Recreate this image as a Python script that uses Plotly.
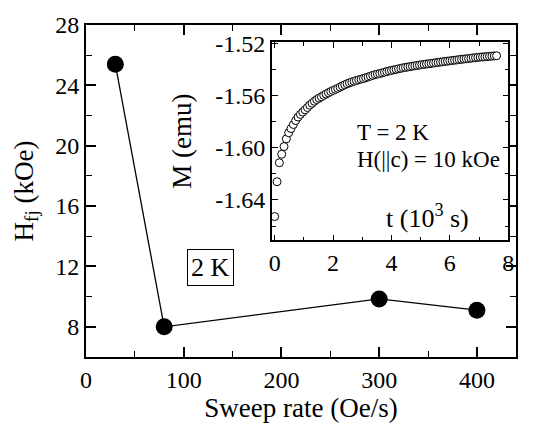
import plotly.graph_objects as go

# Main panel: field vs sweep rate
sweep_rate = [30, 80, 300, 400]          # Oe/s
h_fj = [25.4, 8.0, 9.85, 9.1]            # kOe

# Inset: magnetization relaxation at T = 2 K, H || c = 10 kOe
t_ks = [0.00, 0.08, 0.16, 0.24, 0.32, 0.40, 0.48, 0.56, 0.64, 0.72,
        0.80, 0.88, 0.96, 1.04, 1.12, 1.20, 1.28, 1.36, 1.44, 1.52,
        1.60, 1.68, 1.76, 1.84, 1.92, 2.00, 2.08, 2.16, 2.24, 2.32,
        2.40, 2.48, 2.56, 2.64, 2.72, 2.80, 2.88, 2.96, 3.04, 3.12,
        3.20, 3.28, 3.36, 3.44, 3.52, 3.60, 3.68, 3.76, 3.84, 3.92,
        4.00, 4.08, 4.16, 4.24, 4.32, 4.40, 4.48, 4.56, 4.64, 4.72,
        4.80, 4.88, 4.96, 5.04, 5.12, 5.20, 5.28, 5.36, 5.44, 5.52,
        5.60, 5.68, 5.76, 5.84, 5.92, 6.00, 6.08, 6.16, 6.24, 6.32,
        6.40, 6.48, 6.56, 6.64, 6.72, 6.80, 6.88, 6.96, 7.04, 7.12,
        7.20, 7.28, 7.36, 7.44, 7.52, 7.60]
m_emu = [-1.6527, -1.6260, -1.6115, -1.6050, -1.5991, -1.5932, -1.5885, -1.5853, -1.5822, -1.5792,
         -1.5765, -1.5745, -1.5727, -1.5710, -1.5692, -1.5674, -1.5659, -1.5644, -1.5631, -1.5620,
         -1.5610, -1.5599, -1.5589, -1.5579, -1.5570, -1.5561, -1.5553, -1.5545, -1.5536, -1.5527,
         -1.5518, -1.5510, -1.5503, -1.5497, -1.5491, -1.5485, -1.5480, -1.5475, -1.5470, -1.5464,
         -1.5458, -1.5452, -1.5446, -1.5440, -1.5436, -1.5432, -1.5427, -1.5422, -1.5417, -1.5412,
         -1.5408, -1.5404, -1.5400, -1.5396, -1.5392, -1.5388, -1.5385, -1.5382, -1.5379, -1.5376,
         -1.5373, -1.5370, -1.5367, -1.5364, -1.5362, -1.5359, -1.5357, -1.5354, -1.5352, -1.5349,
         -1.5347, -1.5344, -1.5342, -1.5339, -1.5337, -1.5335, -1.5332, -1.5330, -1.5328, -1.5325,
         -1.5323, -1.5321, -1.5319, -1.5317, -1.5315, -1.5312, -1.5310, -1.5308, -1.5306, -1.5305,
         -1.5304, -1.5302, -1.5300, -1.5299, -1.5297, -1.5296]

inset_yticks = [-1.52, -1.56, -1.60, -1.64]
inset_yticktext = ["-1.52", "-1.56", "-1.60", "-1.64"]

FONT = "Liberation Serif"

fig = go.Figure()

fig.add_trace(go.Scatter(
    x=sweep_rate, y=h_fj, mode="lines+markers",
    line=dict(color="black", width=1.3),
    marker=dict(color="black", size=17),
    xaxis="x", yaxis="y", showlegend=False,
))

fig.add_trace(go.Scatter(
    x=t_ks, y=m_emu, mode="markers",
    marker=dict(symbol="circle", color="white", size=8,
                line=dict(color="black", width=1)),
    xaxis="x2", yaxis="y2", showlegend=False,
))

main_axis = dict(
    showline=True, linecolor="black", linewidth=2, mirror="ticks",
    ticks="inside", ticklen=10, tickwidth=1.5, tickcolor="black",
    showgrid=False, zeroline=False,
    tickfont=dict(family=FONT, size=24, color="black"),
)
inset_axis = dict(
    showline=True, linecolor="black", linewidth=1.5, mirror="ticks",
    ticks="inside", ticklen=6, tickwidth=1.2, tickcolor="black",
    showgrid=False, zeroline=False,
    tickfont=dict(family=FONT, size=24, color="black"),
)

fig.update_layout(
    width=534, height=428,
    margin=dict(l=86, r=12, t=22, b=65),
    paper_bgcolor="white", plot_bgcolor="white",
    font=dict(family=FONT, color="black"),
    xaxis=dict(
        **main_axis, domain=[0, 1], range=[0, 440], dtick=100, tick0=0,
        minor=dict(ticks="inside", ticklen=6, tickwidth=1.2, dtick=50, tickcolor="black"),
        title=dict(text="Sweep rate (Oe/s)", font=dict(family=FONT, size=27), standoff=4),
    ),
    yaxis=dict(
        **main_axis, domain=[0, 1], range=[6, 28], dtick=4, tick0=0,
        minor=dict(ticks="inside", ticklen=6, tickwidth=1.2, dtick=2, tickcolor="black"),
        title=dict(text="H<sub>fj</sub> (kOe)", font=dict(family=FONT, size=27), standoff=14),
    ),
    xaxis2=dict(
        **inset_axis, domain=[0.432, 0.982], anchor="y2", range=[-0.1, 8],
        dtick=2, tick0=0,
        minor=dict(ticks="inside", ticklen=4, tickwidth=1, dtick=1, tickcolor="black"),
    ),
    yaxis2=dict(
        **inset_axis, domain=[0.351, 0.949], anchor="x2", range=[-1.671, -1.519],
        tickvals=inset_yticks, ticktext=inset_yticktext,
        minor=dict(ticks="inside", ticklen=4, tickwidth=1, dtick=0.02, tick0=-1.52,
                   tickcolor="black"),
        title=dict(text="M (emu)", font=dict(family=FONT, size=27), standoff=16),
    ),
    annotations=[
        dict(text="2 K", x=127, y=11.9, xref="x", yref="y", showarrow=False,
             font=dict(family=FONT, size=26), bordercolor="black", borderwidth=1,
             borderpad=3, bgcolor="white"),
        dict(text="T = 2 K", x=2.76, y=-1.5881, xref="x2", yref="y2",
             xanchor="left", showarrow=False, font=dict(family=FONT, size=23)),
        dict(text="H(||c) = 10 kOe", x=2.76, y=-1.6089, xref="x2", yref="y2",
             xanchor="left", showarrow=False, font=dict(family=FONT, size=23)),
        dict(text="t (10<sup>3</sup> s)", x=5.25, y=-1.6524, xref="x2", yref="y2",
             showarrow=False, font=dict(family=FONT, size=26)),
    ],
)

fig.write_html("out.html")
